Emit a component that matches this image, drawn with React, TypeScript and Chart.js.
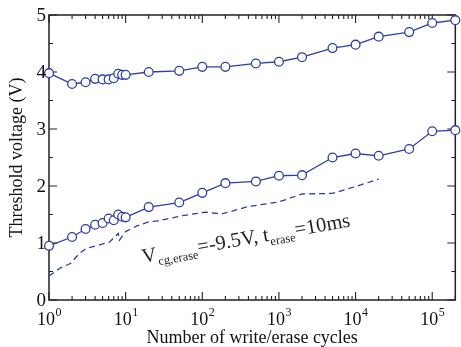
import React, { useEffect, useRef } from "react";
import { Chart, registerables } from "chart.js";

Chart.register(...registerables);

const cycles = [1, 2, 3, 4, 5, 6, 7, 8, 9, 10, 20, 50, 100, 200, 500, 1000, 2000, 5000, 10000, 20000, 50000, 100000, 200000];
const upperVt = [3.98, 3.79, 3.82, 3.88, 3.87, 3.87, 3.89, 3.97, 3.95, 3.95, 4.0, 4.02, 4.09, 4.09, 4.15, 4.18, 4.26, 4.42, 4.48, 4.62, 4.7, 4.86, 4.91];
const lowerVt = [0.95, 1.105, 1.245, 1.32, 1.35, 1.43, 1.4, 1.5, 1.46, 1.45, 1.63, 1.71, 1.88, 2.05, 2.08, 2.18, 2.19, 2.5, 2.57, 2.53, 2.65, 2.96, 2.98];

const dashCycles = [1, 1.4, 1.9, 2.5, 3.1, 4.4, 6.2, 8, 8.3, 10, 14, 20, 27, 55, 110, 180, 400, 1000, 2000, 5000, 10000, 20000];
const dashVt = [0.42, 0.56, 0.64, 0.82, 0.91, 0.96, 1.02, 1.17, 1.05, 1.2, 1.3, 1.37, 1.39, 1.48, 1.54, 1.51, 1.64, 1.72, 1.86, 1.87, 1.99, 2.12];

const xDecades = [0, 1, 2, 3, 4, 5];
const yTickLabels = ["0", "1", "2", "3", "4", "5"];

const BLUE = "#2f3f9f";
const SERIF = '"Liberation Serif", "DejaVu Serif", serif';

const framePlugin = {
  id: "frame",
  beforeDatasetsDraw(chart: any) {
    const ctx = chart.ctx as CanvasRenderingContext2D;
    const a = chart.chartArea;
    const xs = chart.scales.x;
    const ys = chart.scales.y;
    ctx.save();
    ctx.strokeStyle = "#222";
    ctx.lineWidth = 1.5;
    ctx.strokeRect(a.left, a.top, a.right - a.left, a.bottom - a.top);
    ctx.lineWidth = 1.1;
    for (const d of xDecades) {
      for (let k = 1; k <= 9; k++) {
        const v = k * Math.pow(10, d);
        if (v > 200000) break;
        const px = xs.getPixelForValue(v);
        const len = k === 1 ? 8 : 4;
        ctx.beginPath();
        ctx.moveTo(px, a.bottom);
        ctx.lineTo(px, a.bottom - len);
        ctx.moveTo(px, a.top);
        ctx.lineTo(px, a.top + len);
        ctx.stroke();
      }
    }
    for (let i = 0; i <= 10; i++) {
      const v = i * 0.5;
      const py = ys.getPixelForValue(v);
      const len = i % 2 === 0 ? 8 : 4;
      ctx.beginPath();
      ctx.moveTo(a.left, py);
      ctx.lineTo(a.left + len, py);
      ctx.moveTo(a.right, py);
      ctx.lineTo(a.right - len, py);
      ctx.stroke();
    }
    ctx.restore();
  },
  afterDraw(chart: any) {
    const ctx = chart.ctx as CanvasRenderingContext2D;
    const a = chart.chartArea;
    const xs = chart.scales.x;
    const ys = chart.scales.y;
    ctx.save();
    ctx.fillStyle = "#111";
    ctx.font = `19px ${SERIF}`;
    ctx.textAlign = "right";
    ctx.textBaseline = "middle";
    yTickLabels.forEach((t) => {
      ctx.fillText(t, a.left - 3, ys.getPixelForValue(Number(t)) + 1);
    });
    ctx.textAlign = "left";
    ctx.textBaseline = "alphabetic";
    for (const d of xDecades) {
      const px = xs.getPixelForValue(Math.pow(10, d));
      ctx.font = `18px ${SERIF}`;
      const w1 = ctx.measureText("10").width;
      ctx.font = `12px ${SERIF}`;
      const w2 = ctx.measureText(String(d)).width;
      const x0 = px - (w1 + w2) / 2;
      ctx.font = `18px ${SERIF}`;
      ctx.fillText("10", x0, a.bottom + 25);
      ctx.font = `12px ${SERIF}`;
      ctx.fillText(String(d), x0 + w1 + 0.5, a.bottom + 16);
    }
    ctx.font = `18px ${SERIF}`;
    ctx.textAlign = "center";
    ctx.fillText("Number of write/erase cycles", (a.left + a.right) / 2, a.bottom + 43);
    ctx.save();
    ctx.translate(17, (a.top + a.bottom) / 2);
    ctx.rotate(-Math.PI / 2);
    ctx.textBaseline = "middle";
    ctx.fillText("Threshold voltage (V)", 0, 0);
    ctx.restore();
    ctx.save();
    ctx.translate(143, 263);
    ctx.rotate((-10 * Math.PI) / 180);
    ctx.textAlign = "left";
    ctx.fillStyle = "#222";
    const parts: [string, boolean][] = [
      ["V", false],
      ["cg,erase", true],
      ["=-9.5V, t", false],
      ["erase", true],
      ["=10ms", false],
    ];
    let x = 0;
    for (const [t, sub] of parts) {
      ctx.font = sub ? `12.5px ${SERIF}` : `20.5px ${SERIF}`;
      ctx.fillText(t, x, sub ? 5 : 0);
      x += ctx.measureText(t).width + 0.5;
    }
    ctx.restore();
    ctx.restore();
  },
};

export default function App() {
  const ref = useRef<HTMLCanvasElement>(null);
  useEffect(() => {
    const toPts = (xa: number[], ya: number[]) => xa.map((x, i) => ({ x, y: ya[i] }));
    const chart = new Chart(ref.current!, {
      type: "line",
      data: {
        datasets: [
          {
            data: toPts(cycles, upperVt),
            borderColor: BLUE,
            borderWidth: 1.3,
            pointRadius: 4.4,
            pointBorderWidth: 1.3,
            pointBackgroundColor: "#fff",
            pointBorderColor: BLUE,
            tension: 0,
            clip: false,
          },
          {
            data: toPts(cycles, lowerVt),
            borderColor: BLUE,
            borderWidth: 1.3,
            pointRadius: 4.4,
            pointBorderWidth: 1.3,
            pointBackgroundColor: "#fff",
            pointBorderColor: BLUE,
            tension: 0,
            clip: false,
          },
          {
            data: toPts(dashCycles, dashVt),
            borderColor: BLUE,
            borderWidth: 1.3,
            borderDash: [6, 4],
            pointRadius: 0,
            tension: 0,
          },
        ],
      },
      options: {
        animation: false,
        responsive: false,
        layout: { padding: { top: 15, right: 4, left: 0, bottom: 0 } },
        plugins: { legend: { display: false }, tooltip: { enabled: false } },
        scales: {
          x: {
            type: "logarithmic",
            min: 1,
            max: 200000,
            grid: { display: false },
            border: { display: false },
            ticks: { display: false },
            afterFit: (s: any) => {
              s.height = 47;
            },
          },
          y: {
            type: "linear",
            min: 0,
            max: 5,
            grid: { display: false },
            border: { display: false },
            ticks: { display: false },
            afterFit: (s: any) => {
              s.width = 49;
            },
          },
        },
      },
      plugins: [framePlugin],
    } as any);
    return () => chart.destroy();
  }, []);
  return (
    <div style={{ position: "absolute", left: 0, top: 0, background: "#fff" }}>
      <canvas ref={ref} width={461} height={347} />
    </div>
  );
}
